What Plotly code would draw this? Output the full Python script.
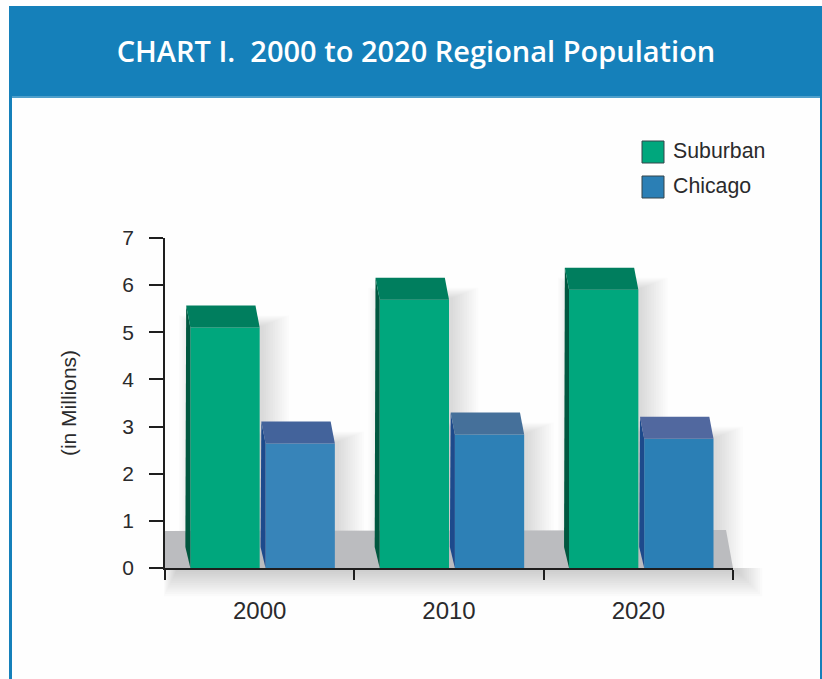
import plotly.graph_objects as go

years = ["2000", "2010", "2020"]
suburban = [5.10, 5.69, 5.90]
chicago = [2.64, 2.83, 2.74]
y_ticks = [0, 1, 2, 3, 4, 5, 6, 7]

SUB_FRONT = ["#00A77D", "#00A77D", "#00A77D"]
SUB_TOP = ["#007E5E", "#007E5E", "#007E5E"]
SUB_SIDE = ["#00573F", "#00573F", "#00573F"]
CHI_FRONT = ["#3784B9", "#2D80B6", "#2B7FB5"]
CHI_TOP = ["#43639B", "#45709A", "#51689F"]
CHI_SIDE = ["#1D4A8C", "#1D4A8C", "#1D4A8C"]
BLUE = "#1580BA"
INK = "#2A2A2C"

W, H = 822, 679
L, R, T, B = 165, 733, 238, 568
PW, PH = R - L, B - T
UX, UY = PW / 3, PH / 7
BAR_W = 69.3 / UX
DX_TOP, DY_TOP = 4.2 / UX, 22 / UY
DX_BASE, DY_BASE = 5 / UX, 21 / UY
OFF_S, OFF_C = -0.366, 0.031


def xp(px):
    return (px - L) / PW


def yp(py):
    return (B - py) / PH


def x_pix(x):
    return L + (x + 0.5) * UX


def y_pix(y):
    return B - y * UY


def poly(points):
    d = "M" + " L".join(f"{xp(a):.5f},{yp(b):.5f}" for a, b in points) + " Z"
    return d


shapes = []


def rect(x0, y0, x1, y1, color, opacity=1):
    shapes.append(dict(type="rect", xref="paper", yref="paper", x0=xp(x0), x1=xp(x1),
                       y0=yp(y1), y1=yp(y0), fillcolor=color, opacity=opacity,
                       line_width=0, layer="below"))


# page frame and header
rect(9, 6, 822, 96, BLUE)
rect(9, 96, 12, 679, BLUE)
rect(820, 96, 822, 679, BLUE)
rect(12, 96, 820, 98, "#4E9FCB")

# soft shadows, drawn under the floor
LAYERS = 12
for k in range(3):
    for off, vals in ((OFF_S, suburban), (OFF_C, chicago)):
        x0 = x_pix(k + off)
        x1 = x_pix(k + off + BAR_W)
        top = y_pix(vals[k])
        for s in range(LAYERS):
            g = (LAYERS - 1 - s) * 2.3
            rect(x0 + 4 - g * 0.6, top - 2 - g * 0.4, x1 + 4 + g, 568, "#55555A", 0.02)
for s in range(LAYERS):
    g = (LAYERS - 1 - s) * 2.2
    rect(176 - g * 0.5, 568, 738 + g, 572 + g, "#55555A", 0.022)

# floor
shapes.append(dict(type="path", xref="paper", yref="paper",
                   path=poly([(165, 531), (726, 530), (733, 568), (165, 568)]),
                   fillcolor="#BBBCBF", line_width=0, layer="below"))

# legend swatches
rect(642, 141, 664, 163, SUB_FRONT[0])
rect(642, 176, 664, 198, "#2B7FB5")
for y0 in (141, 176):
    shapes.append(dict(type="rect", xref="paper", yref="paper", x0=xp(642), x1=xp(664),
                       y0=yp(y0 + 22), y1=yp(y0), line=dict(color="#34444A", width=1),
                       fillcolor="rgba(0,0,0,0)", layer="below"))

fig = go.Figure()


def faces(off, vals, top_colors, side_colors, front_colors, name):
    for k, v in enumerate(vals):
        xl = k + off
        xr = xl + BAR_W
        fig.add_trace(go.Scatter(
            x=[xl, xl - DX_TOP, xl - DX_BASE, xl, xl], y=[v, v + DY_TOP, DY_BASE, 0, v],
            fill="toself", fillcolor=side_colors[k], mode="lines", line=dict(width=0),
            showlegend=False, hoverinfo="skip"))
        fig.add_trace(go.Scatter(
            x=[xl, xl - DX_TOP, xr - DX_TOP, xr, xl], y=[v, v + DY_TOP, v + DY_TOP, v, v],
            fill="toself", fillcolor=top_colors[k], mode="lines", line=dict(width=0),
            showlegend=False, hoverinfo="skip"))
    fig.add_trace(go.Bar(name=name, x=[0, 1, 2], y=vals, width=BAR_W, offset=off,
                         marker=dict(color=front_colors, line=dict(width=0)), showlegend=False))


faces(OFF_S, suburban, SUB_TOP, SUB_SIDE, SUB_FRONT, "Suburban")
faces(OFF_C, chicago, CHI_TOP, CHI_SIDE, CHI_FRONT, "Chicago")

annotations = [
    dict(text=t, xref="paper", yref="paper", x=xp(671), y=yp(yy), xanchor="left", yanchor="middle",
         showarrow=False, font=dict(family="Liberation Sans, Arial, sans-serif", size=21.3, color=INK))
    for t, yy in (("Suburban", 151), ("Chicago", 186))
]

fig.update_layout(
    width=W, height=H, autosize=False, barmode="overlay", showlegend=False,
    margin=dict(l=L, r=W - R, t=T, b=H - B, pad=0),
    paper_bgcolor="#FEFEFE", plot_bgcolor="rgba(0,0,0,0)",
    font=dict(family="Liberation Sans, Arial, sans-serif", color=INK),
    title=dict(text="CHART I.  2000 to 2020 Regional Population", x=416 / W, xanchor="center",
               y=1 - 52 / H, yanchor="middle",
               font=dict(family="Open Sans, sans-serif", size=29, color="white", weight=600)),
    shapes=shapes, annotations=annotations,
    xaxis=dict(range=[-0.5, 2.5], tickmode="array", tickvals=[0, 1, 2], ticktext=years,
               ticks="", showgrid=False, zeroline=False, showline=True, linecolor="#1E1E1E",
               linewidth=2, tickfont=dict(size=24, color=INK), ticklabelstandoff=20,
               minor=dict(tickmode="array", tickvals=[-0.5, 0.5, 1.5, 2.5], ticks="outside",
                          ticklen=10, tickwidth=1.5, tickcolor="#1E1E1E", showgrid=False)),
    yaxis=dict(range=[0, 7], tickmode="array", tickvals=y_ticks, ticks="outside", ticklen=14,
               tickwidth=1.5, tickcolor="#1E1E1E", showgrid=False, zeroline=False, showline=True,
               linecolor="#1E1E1E", linewidth=1.5, tickfont=dict(size=21, color=INK),
               ticklabelstandoff=11,
               title=dict(text="(in Millions)", standoff=40, font=dict(size=21, color=INK))),
)

fig.write_html("out.html", config=dict(displayModeBar=False),
               post_script="document.body.style.margin='0';document.body.style.overflow='hidden';")
